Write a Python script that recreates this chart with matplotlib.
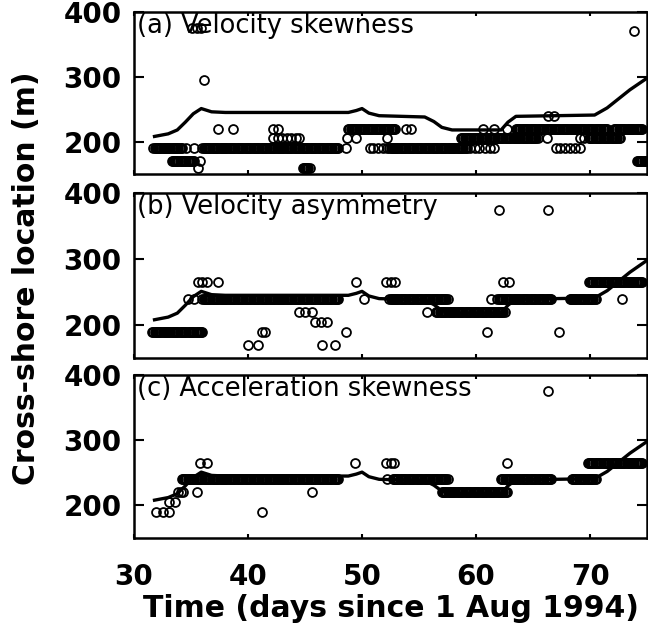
import numpy as np
import matplotlib
matplotlib.use("Agg")
import matplotlib.pyplot as plt

# shared reference curve (days, m)
line_t = [31.8, 33.0, 33.8, 34.5, 35.2, 35.9, 36.8, 38.0, 48.8, 49.5, 50.0, 50.6, 51.5,
          55.5, 56.3, 57.0, 57.9, 62.2, 62.8, 63.5, 70.4, 71.5, 72.5, 73.5, 75.0]
line_v = [208, 212, 218, 230, 243, 251, 246, 245, 245, 248, 251, 244, 240,
          238, 231, 222, 218, 218, 230, 239, 241, 252, 266, 280, 298]

# dense runs of samples: start day, end day, location
a_run_t0 = [31.7, 36.0, 33.3, 44.8, 48.8, 52.4, 58.7, 63.5, 69.9, 72.1, 74.1]
a_run_t1 = [34.2, 47.9, 35.3, 45.4, 52.9, 59.2, 65.4, 71.5, 72.6, 74.6, 75.0]
a_run_v = [190, 190, 170, 160, 220, 190, 205, 220, 205, 220, 170]
# isolated samples
a_t = [34.6, 35.3, 35.1, 35.5, 35.9, 36.1, 37.4, 38.7, 42.2, 42.6,
       42.2, 42.6, 43.0, 43.4, 43.8, 44.2, 44.5, 35.6, 35.8, 48.7, 49.5,
       48.6, 50.7, 51.0, 51.4, 51.8, 52.2, 52.2, 53.9, 54.3,
       59.5, 59.9, 60.3, 60.8, 61.2, 61.6, 60.6, 61.6, 62.7,
       66.2, 69.1, 69.5, 66.3, 66.8, 67.0, 67.4, 67.8, 68.2, 68.7, 69.1, 73.9]
a_v = [190, 190, 375, 375, 375, 295, 220, 220, 220, 220,
       205, 205, 205, 205, 205, 205, 205, 160, 170, 205, 205,
       190, 190, 190, 190, 190, 190, 205, 220, 220,
       190, 190, 190, 190, 190, 190, 220, 220, 220,
       205, 205, 205, 240, 240, 190, 190, 190, 190, 190, 190, 370]

b_run_t0 = [31.6, 36.0, 52.4, 56.5, 62.0, 68.2, 69.9]
b_run_t1 = [36.0, 47.9, 57.5, 62.5, 66.6, 70.5, 74.6]
b_run_v = [190, 240, 240, 220, 240, 240, 265]
b_t = [35.6, 36.0, 36.4, 37.4, 34.7, 35.3, 44.5, 45.0, 45.6, 45.9, 46.4, 46.9,
       40.0, 40.9, 46.5, 47.6, 41.2, 41.5, 48.6, 49.5, 50.2, 62.0, 66.3,
       52.1, 52.5, 52.9, 62.4, 62.9, 61.3, 61.8, 55.7, 72.8, 61.0, 67.3]
b_v = [265, 265, 265, 265, 240, 240, 220, 220, 220, 205, 205, 205,
       170, 170, 170, 170, 190, 190, 190, 265, 240, 375, 375,
       265, 265, 265, 265, 265, 240, 240, 220, 240, 190, 190]

c_run_t0 = [34.2, 52.7, 57.0, 62.2, 68.4, 69.8]
c_run_t1 = [47.9, 57.5, 62.7, 66.6, 70.5, 74.6]
c_run_v = [240, 240, 220, 240, 240, 265]
c_t = [31.9, 32.5, 33.1, 33.1, 33.6, 33.9, 34.1, 34.3, 35.8, 36.4, 35.5, 45.6,
       41.2, 49.4, 52.1, 52.5, 52.8, 52.2, 62.7, 66.3]
c_v = [190, 190, 190, 205, 205, 220, 220, 220, 265, 265, 220, 220,
       190, 265, 265, 265, 265, 240, 265, 375]

titles = ["(a) Velocity skewness", "(b) Velocity asymmetry", "(c) Acceleration skewness"]
xticks = [30, 40, 50, 60, 70]
step = 0.1  # sampling interval inside runs (days)


def expand(t0, t1, v, t, vv):
    xs, ys = list(t), list(vv)
    for s, e, val in zip(t0, t1, v):
        tt = np.arange(s, e + 1e-6, step)
        xs += list(tt)
        ys += [val] * len(tt)
    return np.array(xs), np.array(ys)


panels = [expand(a_run_t0, a_run_t1, a_run_v, a_t, a_v),
          expand(b_run_t0, b_run_t1, b_run_v, b_t, b_v),
          expand(c_run_t0, c_run_t1, c_run_v, c_t, c_v)]

fig = plt.figure(figsize=(6.48, 6.33), dpi=100)
boxes = [[0.2068, 0.7251, 0.7917, 0.2559],
         [0.2068, 0.4344, 0.7917, 0.2607],
         [0.2068, 0.1501, 0.7917, 0.2575]]

axes = []
for box, (xs, ys), title in zip(boxes, panels, titles):
    ax = fig.add_axes(box)
    ax.plot(xs, ys, 'o', ms=6.4, mfc='none', mec='black', mew=1.3)
    ax.plot(line_t, line_v, color='black', lw=2.4)
    ax.set_xlim(30, 75)
    ax.set_ylim(150, 400)
    ax.set_xticks(xticks)
    ax.set_yticks([200, 300, 400])
    ax.set_xticklabels([])
    ax.tick_params(axis='x', direction='in', top=True, length=3, width=1.5)
    ax.tick_params(axis='y', direction='in', right=True, length=7, width=1.5,
                   labelsize=20, pad=9)
    for lab in ax.get_yticklabels():
        lab.set_fontweight('bold')
    for sp in ax.spines.values():
        sp.set_linewidth(1.8)
    ax.text(0.006, 0.995, title, transform=ax.transAxes, ha='left', va='top',
            fontsize=18.5)
    axes.append(ax)

ax = axes[-1]
ax.set_xticklabels([str(v) for v in xticks], fontsize=20, fontweight='bold')
ax.tick_params(axis='x', pad=18)
ax.set_xlabel("Time (days since 1 Aug 1994)", fontsize=21.5, fontweight='bold',
              labelpad=2)

fig.text(27 / 648, 1 - 278 / 633, "Cross-shore location (m)", ha='center',
         va='center', rotation=90, fontsize=21.5, fontweight='bold')

fig.savefig("out.png", dpi=100)
